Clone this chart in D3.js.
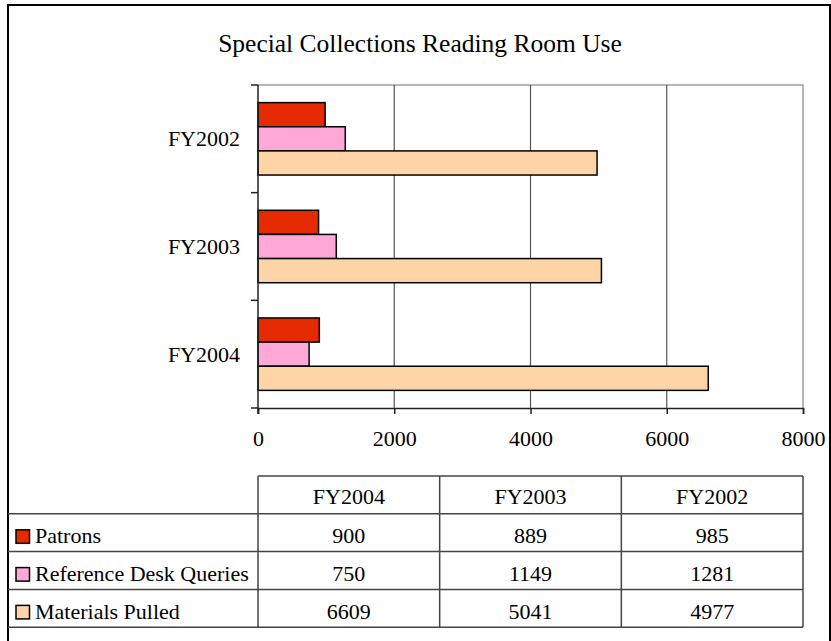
<!DOCTYPE html>
<html>
<head>
<meta charset="utf-8">
<script src="https://cdn.jsdelivr.net/npm/d3@7/dist/d3.min.js"></script>
<style>
  html, body { margin: 0; padding: 0; background: #fff; }
  svg { display: block; }
  text { font-family: "Liberation Serif", "Times New Roman", serif; fill: #000; }
</style>
</head>
<body>
<svg id="chart" width="831" height="641"></svg>
<script>
// ---- data ----
const title = "Special Collections Reading Room Use";
const tableYears = ["FY2004", "FY2003", "FY2002"];        // table column order
const chartYears = ["FY2002", "FY2003", "FY2004"];        // chart order, top to bottom
const seriesNames = ["Patrons", "Reference Desk Queries", "Materials Pulled"];
const patrons = [900, 889, 985];                          // FY2004, FY2003, FY2002
const referenceQueries = [750, 1149, 1281];
const materialsPulled = [6609, 5041, 4977];
const xTicks = [0, 2000, 4000, 6000, 8000];
const colors = ["#E62A00", "#FFA8D8", "#FFD5A8"];

const seriesValues = [patrons, referenceQueries, materialsPulled];

const svg = d3.select("#chart");
const FONT = 22;

// outer frame
svg.append("rect").attr("x", 8).attr("y", 5).attr("width", 822).attr("height", 700)
  .attr("fill", "#fff").attr("stroke", "#000").attr("stroke-width", 2);

// title
svg.append("text").attr("x", 420).attr("y", 52).attr("text-anchor", "middle")
  .style("font-size", "25.5px").text(title);

// plot area
const plot = { left: 258, right: 803, top: 85, bottom: 408 };
const x = d3.scaleLinear().domain([0, 8000]).range([plot.left, plot.right]);
const y = d3.scaleBand().domain(chartYears).range([plot.top, plot.bottom]).padding(0);
const yInner = d3.scaleBand().domain(seriesNames).range([0, y.bandwidth()])
  .paddingInner(0).paddingOuter(0.73);

// plot border (top/right light grey)
svg.append("path")
  .attr("d", `M${plot.left},${plot.top}H${plot.right}V${plot.bottom}`)
  .attr("fill", "none").attr("stroke", "#a0a0a0").attr("stroke-width", 1.5);

// gridlines
svg.append("g").selectAll("line").data(xTicks.filter(d => d > 0 && d < 8000)).join("line")
  .attr("x1", d => x(d)).attr("x2", d => x(d))
  .attr("y1", plot.top).attr("y2", plot.bottom)
  .attr("stroke", "#555").attr("stroke-width", 1.2);

// bars
const rows = [];
chartYears.forEach(yr => {
  const ti = tableYears.indexOf(yr);
  seriesNames.forEach((s, si) => rows.push({ year: yr, series: s, value: seriesValues[si][ti], color: colors[si] }));
});
svg.append("g").selectAll("rect").data(rows).join("rect")
  .attr("x", x(0))
  .attr("y", d => y(d.year) + yInner(d.series))
  .attr("width", d => x(d.value) - x(0))
  .attr("height", yInner.bandwidth())
  .attr("fill", d => d.color)
  .attr("stroke", "#000").attr("stroke-width", 1.5);

// x axis
const xAxis = d3.axisBottom(x).tickValues(xTicks).tickSize(6).tickPadding(16).tickFormat(d3.format("d"));
const gx = svg.append("g").attr("transform", `translate(0,${plot.bottom})`).call(xAxis);
gx.select(".domain").attr("stroke", "#222").attr("stroke-width", 1.5);
gx.selectAll(".tick line").attr("stroke", "#222").attr("stroke-width", 1.5);
gx.selectAll(".tick text").style("font-size", FONT + "px")
  .style("font-family", '"Liberation Serif", "Times New Roman", serif').attr("fill", "#000");

// y axis (domain line + ticks at band boundaries)
svg.append("line").attr("x1", plot.left).attr("x2", plot.left)
  .attr("y1", plot.top).attr("y2", plot.bottom + 6)
  .attr("stroke", "#222").attr("stroke-width", 1.5);
const boundaries = chartYears.map(d => y(d)).concat([plot.bottom]);
svg.append("g").selectAll("line").data(boundaries).join("line")
  .attr("x1", plot.left - 7).attr("x2", plot.left)
  .attr("y1", d => d).attr("y2", d => d)
  .attr("stroke", "#222").attr("stroke-width", 1.5);
svg.append("g").selectAll("text").data(chartYears).join("text")
  .attr("x", plot.left - 18).attr("y", d => y(d) + y.bandwidth() / 2 + 7.5)
  .attr("text-anchor", "end").style("font-size", FONT + "px").text(d => d);

// data table
const tbl = { left: 8, colStart: plot.left, right: plot.right, top: 476, rowH: 37.8 };
const colX = d3.scaleBand().domain(tableYears).range([tbl.colStart, tbl.right]);
const lineColor = "#444";
const g = svg.append("g");
// horizontal lines
const nRows = seriesNames.length;
g.append("line").attr("x1", tbl.colStart).attr("x2", tbl.right)
  .attr("y1", tbl.top).attr("y2", tbl.top).attr("stroke", lineColor).attr("stroke-width", 1.5);
d3.range(1, nRows + 2).forEach(i => {
  g.append("line").attr("x1", tbl.left).attr("x2", tbl.right)
    .attr("y1", tbl.top + i * tbl.rowH).attr("y2", tbl.top + i * tbl.rowH)
    .attr("stroke", lineColor).attr("stroke-width", 1.5);
});
// vertical lines
const vx = tableYears.map(d => colX(d)).concat([tbl.right]);
g.selectAll("line.v").data(vx).join("line").attr("class", "v")
  .attr("x1", d => d).attr("x2", d => d)
  .attr("y1", tbl.top).attr("y2", tbl.top + (nRows + 1) * tbl.rowH)
  .attr("stroke", lineColor).attr("stroke-width", 1.5);
// header
g.selectAll("text.h").data(tableYears).join("text").attr("class", "h")
  .attr("x", d => colX(d) + colX.bandwidth() / 2).attr("y", tbl.top + 28)
  .attr("text-anchor", "middle").style("font-size", FONT + "px").text(d => d);
// rows
seriesNames.forEach((s, si) => {
  const ry = tbl.top + (si + 1) * tbl.rowH;
  g.append("rect").attr("x", 16).attr("y", ry + 16).attr("width", 13.5).attr("height", 13.5)
    .attr("fill", colors[si]).attr("stroke", "#000").attr("stroke-width", 1.5);
  g.append("text").attr("x", 35).attr("y", ry + 29.5).style("font-size", FONT + "px").text(s);
  g.selectAll(null).data(tableYears).join("text")
    .attr("x", d => colX(d) + colX.bandwidth() / 2).attr("y", ry + 29.5)
    .attr("text-anchor", "middle").style("font-size", FONT + "px")
    .text((d, i) => seriesValues[si][i]);
});
</script>
</body>
</html>
